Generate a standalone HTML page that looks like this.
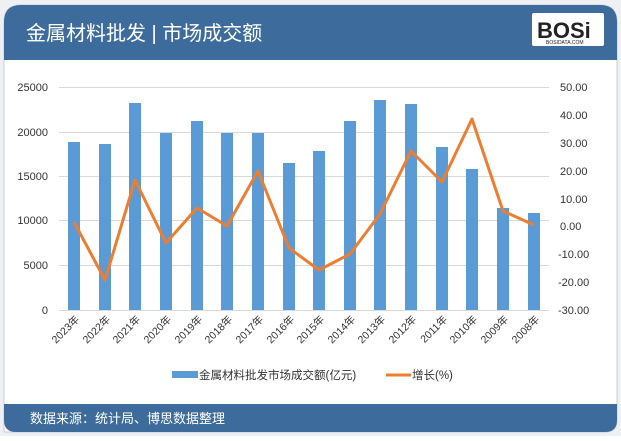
<!DOCTYPE html>
<html><head><meta charset="utf-8"><style>
body{margin:0;width:621px;height:436px;background:#fff;overflow:hidden;font-family:"Liberation Sans","Noto Sans CJK SC",sans-serif}
</style></head><body>
<svg width="621" height="436" xmlns="http://www.w3.org/2000/svg" font-family="Liberation Sans, Noto Sans CJK SC, sans-serif">
<rect x="0" y="0" width="621" height="436" fill="#eef0f3"/>
<path d="M4,432 V22 Q4,5 21,5 H600 Q617,5 617,22 V420 Q617,432 605,432 Z" fill="#fff" stroke="#c8ccd2"/>
<path d="M4,60 V22 Q4,5 21,5 H600 Q617,5 617,22 V60 Z" fill="#3d6c9c"/>
<path d="M4,404 H617 V420 Q617,432 605,432 H16 Q4,432 4,420 Z" fill="#3d6c9c"/>
<text x="26" y="40" font-size="20" fill="#fff">金属材料批发 | 市场成交额</text>
<rect x="532" y="13" width="72" height="33" fill="#fff" rx="2"/>
<text x="537" y="38" font-size="22" font-weight="bold" fill="#222">BOSi</text>
<text x="546" y="44" font-size="5" fill="#222">BOSIDATA.COM</text>
<text x="30" y="423" font-size="13" fill="#fff">数据来源：统计局、博思数据整理</text>
<g stroke="#d9d9d9" stroke-width="1">
<line x1="59" y1="87.5" x2="549" y2="87.5"/><line x1="59" y1="132.5" x2="549" y2="132.5"/>
<line x1="59" y1="176.5" x2="549" y2="176.5"/><line x1="59" y1="220.5" x2="549" y2="220.5"/>
<line x1="59" y1="265.5" x2="549" y2="265.5"/><line x1="59" y1="310.5" x2="549" y2="310.5"/>
</g>
<g font-size="11" fill="#333" text-anchor="end">
<text x="48" y="91">25000</text><text x="48" y="136">20000</text><text x="48" y="180">15000</text>
<text x="48" y="224">10000</text><text x="48" y="269">5000</text><text x="48" y="314">0</text>
</g>
<g font-size="11" fill="#333" text-anchor="start">
<text x="560" y="91">50.00</text><text x="560" y="119">40.00</text><text x="560" y="147">30.00</text>
<text x="560" y="175">20.00</text><text x="560" y="203">10.00</text><text x="560" y="230">0.00</text>
<text x="558" y="258">-10.00</text><text x="558" y="286">-20.00</text><text x="558" y="314">-30.00</text>
</g>
<g fill="#5b9bd5">
<rect x="68" y="142" width="12" height="168"/><rect x="99" y="144" width="12" height="166"/>
<rect x="129" y="103" width="12" height="207"/><rect x="160" y="133" width="12" height="177"/>
<rect x="191" y="121" width="12" height="189"/><rect x="221" y="133" width="12" height="177"/>
<rect x="252" y="133" width="12" height="177"/><rect x="283" y="163" width="12" height="147"/>
<rect x="313" y="151" width="12" height="159"/><rect x="344" y="121" width="12" height="189"/>
<rect x="374" y="100" width="12" height="210"/><rect x="405" y="104" width="12" height="206"/>
<rect x="436" y="147" width="12" height="163"/><rect x="466" y="169" width="12" height="141"/>
<rect x="497" y="208" width="12" height="102"/><rect x="528" y="213" width="12" height="97"/>
</g>
<polyline fill="none" stroke="#ed7d31" stroke-width="3" stroke-linejoin="round" points="74,222 105,280 135,180 166,243 197,208 227,226 258,171 289,248 319,270 350,254 380,214 411,151 442,182 472,119 503,211 534,225"/>
<g font-size="10.5" fill="#333" text-anchor="end">
<text transform="translate(80,320) rotate(-45)">2023年</text><text transform="translate(111,320) rotate(-45)">2022年</text>
<text transform="translate(141,320) rotate(-45)">2021年</text><text transform="translate(172,320) rotate(-45)">2020年</text>
<text transform="translate(203,320) rotate(-45)">2019年</text><text transform="translate(233,320) rotate(-45)">2018年</text>
<text transform="translate(264,320) rotate(-45)">2017年</text><text transform="translate(295,320) rotate(-45)">2016年</text>
<text transform="translate(325,320) rotate(-45)">2015年</text><text transform="translate(356,320) rotate(-45)">2014年</text>
<text transform="translate(386,320) rotate(-45)">2013年</text><text transform="translate(417,320) rotate(-45)">2012年</text>
<text transform="translate(448,320) rotate(-45)">2011年</text><text transform="translate(478,320) rotate(-45)">2010年</text>
<text transform="translate(509,320) rotate(-45)">2009年</text><text transform="translate(540,320) rotate(-45)">2008年</text>
</g>
<rect x="172" y="371" width="26" height="7" fill="#5b9bd5"/>
<text x="199" y="379" font-size="11.5" fill="#333">金属材料批发市场成交额(亿元)</text>
<line x1="386" y1="375" x2="411" y2="375" stroke="#ed7d31" stroke-width="3"/>
<text x="412" y="379" font-size="11.5" fill="#333">增长(%)</text>
</svg>
</body></html>
